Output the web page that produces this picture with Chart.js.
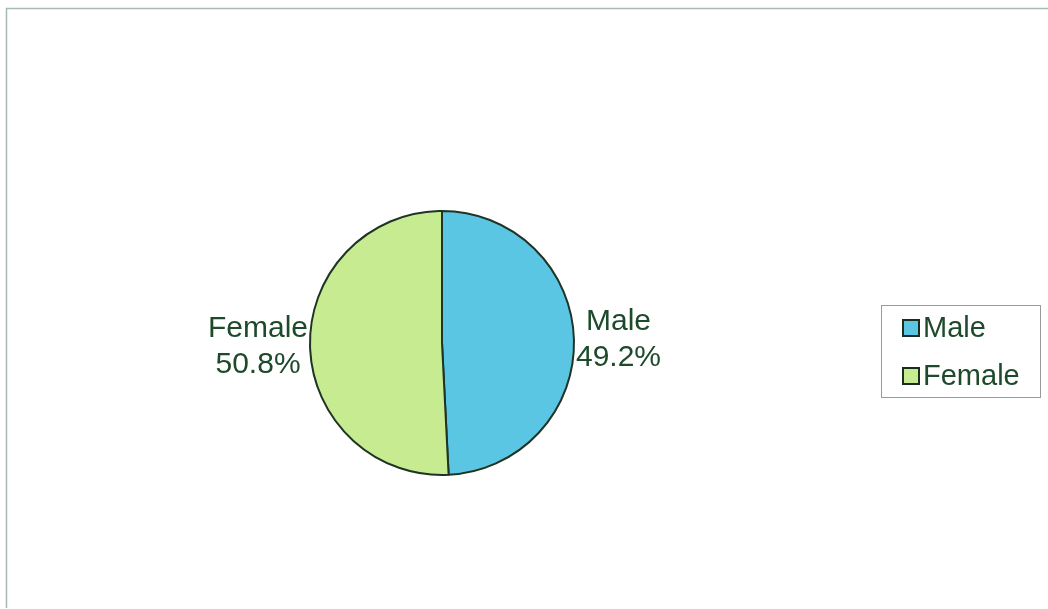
<!DOCTYPE html>
<html>
<head>
<meta charset="utf-8">
<script src="https://cdn.jsdelivr.net/npm/chart.js@4.4.0/dist/chart.umd.min.js"></script>
<style>
  html, body { margin: 0; padding: 0; background: #fff; }
  #wrap { width: 1048px; height: 609px; }
</style>
</head>
<body>
<div id="wrap"><canvas id="myChart"></canvas></div>
<script>
let chartLabels = ['Male', 'Female'];
let chartValues = [49.2, 50.8];
let chartColors = ['#5ac6e4', '#c6eb90'];

let textColor = '#1d4a2a';
let labelFont = '30px "Liberation Sans", Arial, sans-serif';
let legendFont = '29px "Liberation Sans", Arial, sans-serif';

// faint frame: top and left edges of the scanned box
let framePlugin = {
    id: 'frame',
    beforeDraw: (chart) => {
        let c = chart.ctx;
        c.save();
        c.fillStyle = '#fff';
        c.fillRect(0, 0, chart.width, chart.height);
        c.strokeStyle = '#a5bab0';
        c.lineWidth = 1.5;
        c.beginPath();
        c.moveTo(6.5, chart.height - 1);
        c.lineTo(6.5, 8.5);
        c.lineTo(chart.width, 8.5);
        c.stroke();
        c.restore();
    }
};

// name + percent next to each slice
let sliceLabels = {
    id: 'sliceLabels',
    afterDatasetsDraw: (chart) => {
        let c = chart.ctx;
        let meta = chart.getDatasetMeta(0);
        let total = chartValues.reduce((a, b) => a + b, 0);
        c.save();
        c.font = labelFont;
        c.fillStyle = textColor;
        c.textAlign = 'center';
        c.textBaseline = 'middle';
        meta.data.forEach((arc, i) => {
            let mid = (arc.startAngle + arc.endAngle) / 2;
            let r = arc.outerRadius + 2;
            let ax = arc.x + Math.cos(mid) * r;
            let ay = arc.y + Math.sin(mid) * r;
            let pct = (chartValues[i] / total * 100).toFixed(1) + '%';
            let w = Math.max(c.measureText(chartLabels[i]).width, c.measureText(pct).width);
            let x = Math.cos(mid) >= 0 ? ax + w / 2 : ax - w / 2;
            c.fillText(chartLabels[i], x, ay - 18);
            c.fillText(pct, x, ay + 18);
        });
        c.restore();
    }
};

// boxed legend on the right
let boxLegend = {
    id: 'boxLegend',
    afterDraw: (chart) => {
        let c = chart.ctx;
        c.save();
        c.strokeStyle = '#9a9a9a';
        c.lineWidth = 1;
        c.strokeRect(881.5, 305.5, 159, 92);
        c.font = legendFont;
        c.textBaseline = 'middle';
        for (let i = 0; i < chartLabels.length; i++) {
            let y = 328 + i * 48;
            c.fillStyle = chartColors[i];
            c.fillRect(903, y - 8, 16, 16);
            c.strokeStyle = '#1a2e20';
            c.lineWidth = 2;
            c.strokeRect(903, y - 8, 16, 16);
            c.fillStyle = textColor;
            c.fillText(chartLabels[i], 923, y + 1);
        }
        c.restore();
    }
};

let ctx = document.getElementById('myChart').getContext('2d');
let myChart = new Chart(ctx, {
    type: 'pie',
    data: {
        labels: chartLabels,
        datasets: [{
            data: chartValues,
            backgroundColor: chartColors,
            borderColor: '#1f3424',
            borderWidth: 2
        }]
    },
    options: {
        responsive: true,
        maintainAspectRatio: false,
        animation: false,
        layout: {
            padding: { left: 309, right: 473, top: 210, bottom: 133 }
        },
        plugins: {
            legend: { display: false },
            tooltip: { enabled: false }
        }
    },
    plugins: [framePlugin, sliceLabels, boxLegend]
});
</script>
</body>
</html>
